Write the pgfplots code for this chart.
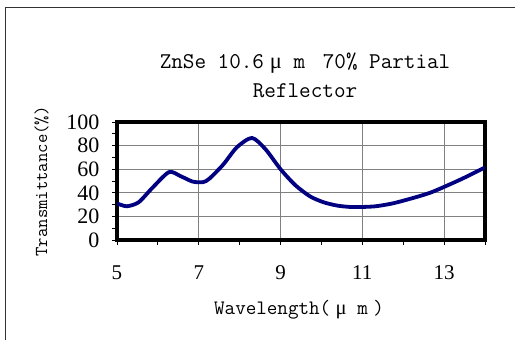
\documentclass[border=0pt]{standalone}
\usepackage{fontspec}
\setmainfont{Liberation Serif}
\newfontfamily\greekf{Liberation Serif}
\usepackage{pgfplots}
\pgfplotsset{compat=1.18}
\newcommand\mum{\makebox[1.05em]{\greekf μ}\makebox[1.05em]{m}}
\begin{document}
\begin{tikzpicture}[x=1pt,y=1pt]
\useasboundingbox (0,0) rectangle (515,340);
\draw[line width=1.2pt, black!80] (5.5,-5) -- (5.5,332.5) -- (520,332.5);
\begin{axis}[
  at={(117pt,100pt)}, anchor=south west,
  scale only axis, width=368pt, height=118pt,
  xmin=5, xmax=14, ymin=0, ymax=100,
  xtick={5,7,9,11,13}, minor xtick={6,8,10,12,14},
  ytick={0,20,40,60,80,100}, minor ytick={10,30,50,70,90},
  xtick pos=bottom, ytick pos=left,
  grid=major, major grid style={gray, line width=0.8pt},
  axis line style={black, line width=3.5pt},
  tick style={black, line width=0.8pt},
  tick align=outside, major tick length=5pt, minor tick length=5pt,
  /pgf/number format/assume math mode=true,
  xticklabel style={font=\fontsize{21}{21}\selectfont, yshift=-17pt},
  yticklabel style={font=\fontsize{22}{22}\selectfont, xshift=-9pt},
  title={ZnSe 10.6\mum\ 70\% Partial\\Reflector},
  title style={font=\ttfamily\fontsize{22.5}{29}\selectfont, align=center, at={(rel axis cs:0.511,1.344)}, anchor=center},
  xlabel={Wavelength(\mum)},
  xlabel style={font=\ttfamily\fontsize{20.5}{20.5}\selectfont, at={(rel axis cs:0.4946,-0.593)}, anchor=center},
  ylabel={Transmittance(\%)},
  ylabel style={font=\ttfamily\fontsize{18.2}{18.2}\selectfont, at={(rel axis cs:-0.205,0.496)}, anchor=center, rotate=0},
]
\addplot[color={rgb,255:red,0;green,0;blue,128}, line width=3.8pt, smooth, tension=0.45] coordinates {
(5.0,31) (5.24,28.6) (5.53,32) (5.86,44) (6.27,57.5) (6.56,54) (6.85,49.5) (7.1,49)
(7.26,52) (7.6,64) (7.93,78.5) (8.3,86.5) (8.63,77) (9.0,60) (9.36,46.5) (9.72,37)
(10.05,32) (10.38,29.2) (10.7,28) (11.0,28) (11.33,28.6) (11.74,31) (12.23,35.5)
(12.64,39.8) (13.0,45) (13.46,52.2) (14.0,61.5)
};
\end{axis}
\end{tikzpicture}
\end{document}
